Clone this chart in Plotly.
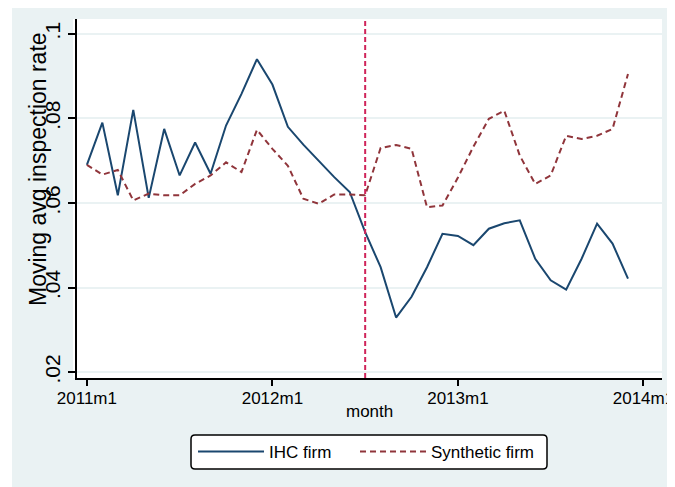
import plotly.graph_objects as go

# ---- data -------------------------------------------------------------
years = [2011, 2012, 2013]
months = [f"{y}m{m}" for y in years for m in range(1, 13)]   # 2011m1 .. 2013m12
month_index = list(range(len(months)))

ihc_firm = [0.069, 0.079, 0.0618, 0.082, 0.0612, 0.0775, 0.0665, 0.0743, 0.0669, 0.0783,
            0.0858, 0.094, 0.088, 0.078, 0.0738, 0.0699, 0.0661, 0.0626, 0.0531, 0.0448,
            0.0329, 0.0378, 0.0448, 0.0527, 0.0522, 0.050, 0.0539, 0.0552, 0.0559, 0.0468,
            0.0417, 0.0395, 0.0468, 0.0551, 0.0504, 0.0421]
synthetic_firm = [0.069, 0.0667, 0.0678, 0.0606, 0.0622, 0.0618, 0.0618, 0.0645, 0.0665, 0.0696,
                  0.0673, 0.0773, 0.0728, 0.0688, 0.061, 0.0598, 0.062, 0.062, 0.0618, 0.073,
                  0.0737, 0.0728, 0.059, 0.0594, 0.066, 0.0733, 0.0799, 0.0818, 0.0712, 0.0645,
                  0.0665, 0.0759, 0.0751, 0.0759, 0.0775, 0.0905]
series_names = ["IHC firm", "Synthetic firm"]
treatment_month = "2012m7"

x_tick_labels = ["2011m1", "2012m1", "2013m1", "2014m1"]
x_tick_vals = [0, 12, 24, 36]
y_tick_vals = [0.02, 0.04, 0.06, 0.08, 0.10]
y_tick_labels = [".02", ".04", ".06", ".08", ".1"]
x_title = "month"
y_title = "Moving avg inspection rate"

# ---- style ------------------------------------------------------------
NAVY = "#1A476F"
MAROON = "#90353B"
VLINE = "#D0245A"
BG = "#EAF2F3"
FONT = "Liberation Sans, Arial, sans-serif"

OFF = 8                       # page offset of the figure (default body margin)
W, H = 675, 487
# plot area in page pixels: x 77..662, y 19..378
ML, MT = 77 - OFF, 19 - OFF
MR, MB = W - (662 - OFF), H - (378 - OFF)
PW, PH = W - ML - MR, H - MT - MB


def px_x(p):
    """page pixel x -> paper coordinate"""
    return (p - OFF - ML) / PW


def px_y(p):
    """page pixel y -> paper coordinate"""
    return (H - MB - (p - OFF)) / PH


def rounded_box(x0, y0, x1, y1, r):
    X, Y = px_x, px_y
    return (f"M{X(x0 + r)},{Y(y0)} L{X(x1 - r)},{Y(y0)} Q{X(x1)},{Y(y0)} {X(x1)},{Y(y0 + r)} "
            f"L{X(x1)},{Y(y1 - r)} Q{X(x1)},{Y(y1)} {X(x1 - r)},{Y(y1)} "
            f"L{X(x0 + r)},{Y(y1)} Q{X(x0)},{Y(y1)} {X(x0)},{Y(y1 - r)} "
            f"L{X(x0)},{Y(y0 + r)} Q{X(x0)},{Y(y0)} {X(x0 + r)},{Y(y0)} Z")


fig = go.Figure()
fig.add_trace(go.Scatter(x=month_index, y=ihc_firm, mode="lines", name=series_names[0],
                         line=dict(color=NAVY, width=2), legend="legend"))
fig.add_trace(go.Scatter(x=month_index, y=synthetic_firm, mode="lines", name=series_names[1],
                         line=dict(color=MAROON, width=2, dash="6px,4px"), legend="legend2"))

shapes = [
    dict(type="rect", xref="paper", yref="paper", x0=px_x(12), x1=px_x(W + 20),
         y0=px_y(H + 20), y1=px_y(4), fillcolor=BG, line=dict(width=0), layer="below"),
    dict(type="rect", xref="paper", yref="paper", x0=px_x(73), x1=1, y0=0, y1=1,
         fillcolor="white", line=dict(width=0), layer="below"),
    dict(type="line", xref="x", yref="paper", x0=months.index(treatment_month),
         x1=months.index(treatment_month), y0=0, y1=1,
         line=dict(color=VLINE, width=2, dash="5px,3px")),
    dict(type="path", xref="paper", yref="paper", path=rounded_box(191, 435, 547, 469, 4),
         fillcolor="white", line=dict(color="black", width=1.5), layer="above"),
]

leg_common = dict(orientation="h", xanchor="left", yanchor="middle",
                  bgcolor="rgba(0,0,0,0)", borderwidth=0,
                  font=dict(size=17, family=FONT, color="black"), itemwidth=66)

fig.update_layout(
    width=W, height=H,
    margin=dict(l=ML, r=MR, t=MT, b=MB, pad=0, autoexpand=False),
    paper_bgcolor="white", plot_bgcolor="white",
    font=dict(family=FONT, size=17, color="black"),
    shapes=shapes,
    showlegend=True,
    legend=dict(x=px_x(193), y=px_y(452), **leg_common),
    legend2=dict(x=px_x(355), y=px_y(452), **leg_common),
    annotations=[
        dict(text=x_title, xref="paper", yref="paper", x=0.5, y=px_y(411),
             xanchor="center", yanchor="middle", showarrow=False, font=dict(size=17)),
        dict(text=y_title, xref="paper", yref="paper", x=px_x(38), y=px_y(169),
             xanchor="center", yanchor="middle", textangle=-90, showarrow=False,
             font=dict(size=23)),
    ],
)
fig.update_xaxes(range=[-0.64, 37.2], tickmode="array", tickvals=x_tick_vals,
                 ticktext=x_tick_labels, showgrid=False, zeroline=False, automargin=False,
                 showline=True, linecolor="black", linewidth=1.5,
                 ticks="outside", ticklen=6, tickwidth=1.5, tickcolor="black",
                 tickfont=dict(size=17), ticklabelstandoff=-2)
fig.update_yaxes(range=[0.0186, 0.1035], tickmode="array", tickvals=y_tick_vals,
                 ticktext=y_tick_labels, tickangle=-90, showgrid=True, gridcolor=BG,
                 gridwidth=2, zeroline=False, showline=True, linecolor="black",
                 automargin=False, linewidth=1.5, ticks="outside", ticklen=7, tickwidth=1.5,
                 tickcolor="black", tickfont=dict(size=21))

fig.write_html("out.html")
